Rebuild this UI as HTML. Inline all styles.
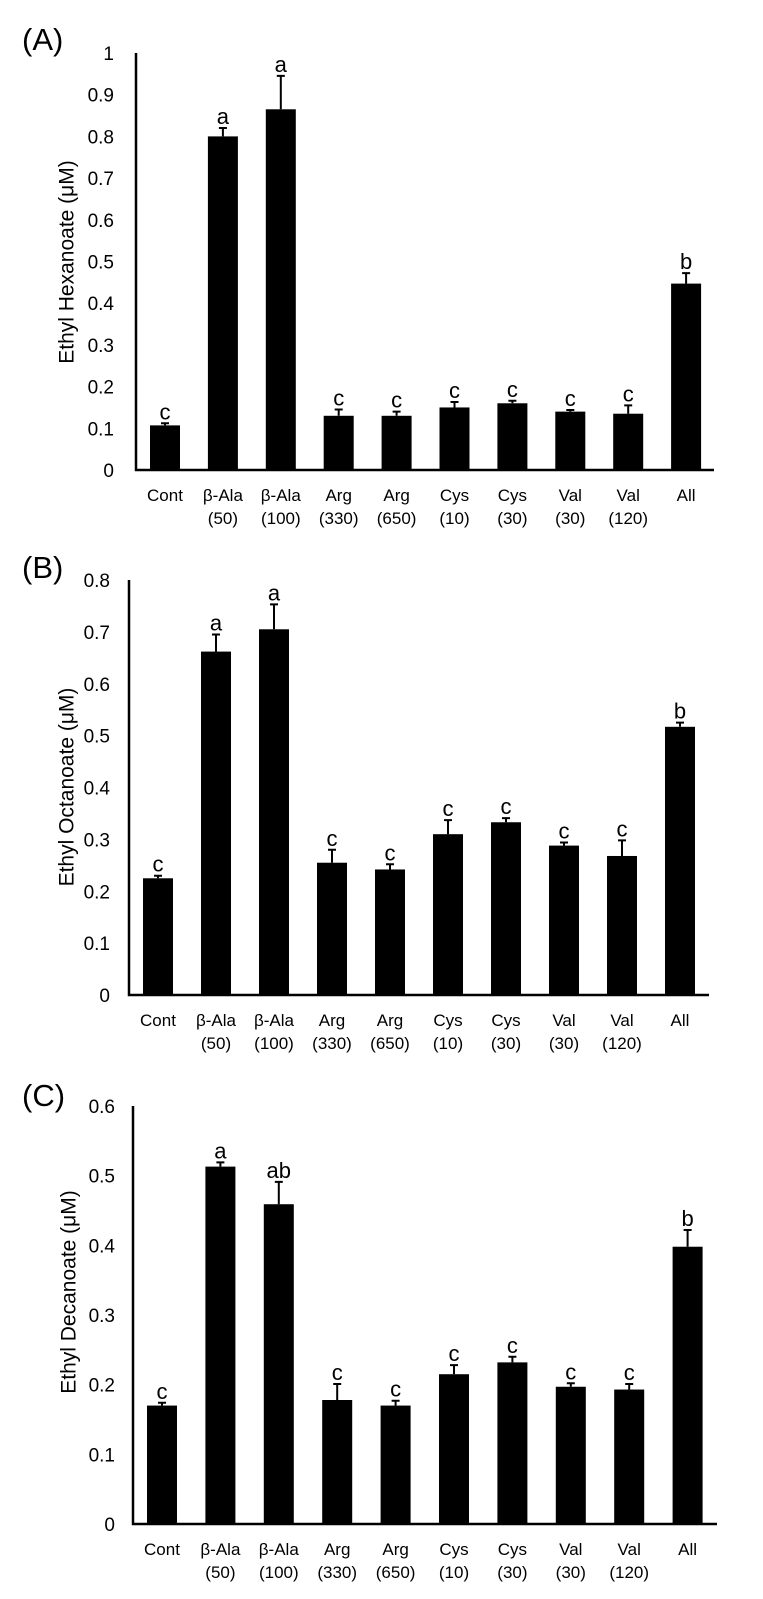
<!DOCTYPE html>
<html><head><meta charset="utf-8"><style>
html,body{margin:0;padding:0;background:#fff;}
svg{display:block;font-family:"Liberation Sans","DejaVu Sans",sans-serif;}
</style></head><body>
<svg id="fig" width="763" height="1599" viewBox="0 0 763 1599" xmlns="http://www.w3.org/2000/svg"></svg>
<script>
const categories = ["Cont","β-Ala|(50)","β-Ala|(100)","Arg|(330)","Arg|(650)","Cys|(10)","Cys|(30)","Val|(30)","Val|(120)","All"];
const hexValues = [0.107,0.80,0.865,0.13,0.13,0.15,0.16,0.14,0.135,0.447];
const hexErrors = [0.005,0.02,0.08,0.015,0.01,0.013,0.006,0.004,0.02,0.025];
const hexLetters = ["c","a","a","c","c","c","c","c","c","b"];
const octValues = [0.225,0.662,0.705,0.255,0.242,0.31,0.333,0.288,0.268,0.517];
const octErrors = [0.005,0.033,0.048,0.025,0.01,0.027,0.008,0.006,0.03,0.008];
const octLetters = ["c","a","a","c","c","c","c","c","c","b"];
const decValues = [0.17,0.513,0.459,0.178,0.17,0.215,0.232,0.197,0.193,0.398];
const decErrors = [0.004,0.006,0.032,0.023,0.007,0.013,0.008,0.005,0.008,0.024];
const decLetters = ["c","a","ab","c","c","c","c","c","c","b"];
const hexTicks = ["0","0.1","0.2","0.3","0.4","0.5","0.6","0.7","0.8","0.9","1"];
const octTicks = ["0","0.1","0.2","0.3","0.4","0.5","0.6","0.7","0.8"];
const decTicks = ["0","0.1","0.2","0.3","0.4","0.5","0.6"];

const NS="http://www.w3.org/2000/svg";
const svg=document.getElementById('fig');
function mk(tag,attrs,parent){const e=document.createElementNS(NS,tag);for(const k in attrs)e.setAttribute(k,attrs[k]);(parent||svg).appendChild(e);return e;}

const panels=[
 {label:"(A)",lx:22,ly:50,title:"Ethyl Hexanoate (μM)",tx:68,ty:262,axX:136,top:53,base:470,axEnd:714,max:1.0,firstBar:150,step:57.9,tickX:114,values:hexValues,errors:hexErrors,letters:hexLetters,ticks:hexTicks,name:"hexanoate"},
 {label:"(B)",lx:22,ly:578,title:"Ethyl Octanoate (μM)",tx:68,ty:787,axX:129,top:580,base:995,axEnd:709,max:0.8,firstBar:143,step:58,tickX:110,values:octValues,errors:octErrors,letters:octLetters,ticks:octTicks,name:"octanoate"},
 {label:"(C)",lx:22,ly:1106,title:"Ethyl Decanoate (μM)",tx:70,ty:1292,axX:133,top:1106,base:1524,axEnd:717,max:0.6,firstBar:147,step:58.4,tickX:115,values:decValues,errors:decErrors,letters:decLetters,ticks:decTicks,name:"decanoate"}
];
const BW=30;
panels.forEach(p=>{
  const g=mk('g',{});
  
  
  const y=v=>p.base-(v/p.max)*(p.base-p.top);
  const x=i=>p.firstBar+i*p.step;
  const lab=mk('text',{x:p.lx,y:p.ly,'font-size':31,fill:'#000'},g);lab.textContent=p.label;
  
  
  const t=mk('text',{x:0,y:0,'font-size':21,'text-anchor':'middle',transform:`translate(${p.tx},${p.ty}) rotate(-90)`,'dominant-baseline':'middle'},g);t.textContent=p.title;
  
  
  p.ticks.forEach(tk=>{
    const tt=mk('text',{x:p.tickX,y:y(parseFloat(tk))+7,'font-size':19,'text-anchor':'end'},g);tt.textContent=tk;
    
    
  });
  p.values.forEach((v,i)=>{
    const r=mk('rect',{x:x(i),y:y(v),width:BW,height:p.base-y(v),fill:'#000'},g);
    
    
    const cx=x(i)+BW/2, et=y(v+p.errors[i]);
    const el=mk('path',{d:`M${cx} ${y(v)}V${et}M${cx-4} ${et}H${cx+4}`,stroke:'#000','stroke-width':2,fill:'none'},g);
    
    
    const lt=mk('text',{x:cx,y:et-4,'font-size':22,'text-anchor':'middle'},g);lt.textContent=p.letters[i];
    
    
    const parts=categories[i].split('|');
    parts.forEach((s,j)=>{
      const ct=mk('text',{x:cx,y:p.base+31+j*23,'font-size':17,'text-anchor':'middle'},g);ct.textContent=s;
      
      
    });
  });
  const ax=mk('path',{d:`M${p.axX} ${p.top}V${p.base}H${p.axEnd}`,stroke:'#000','stroke-width':2.5,fill:'none'},g);
  
  
});
</script>
</body></html>
